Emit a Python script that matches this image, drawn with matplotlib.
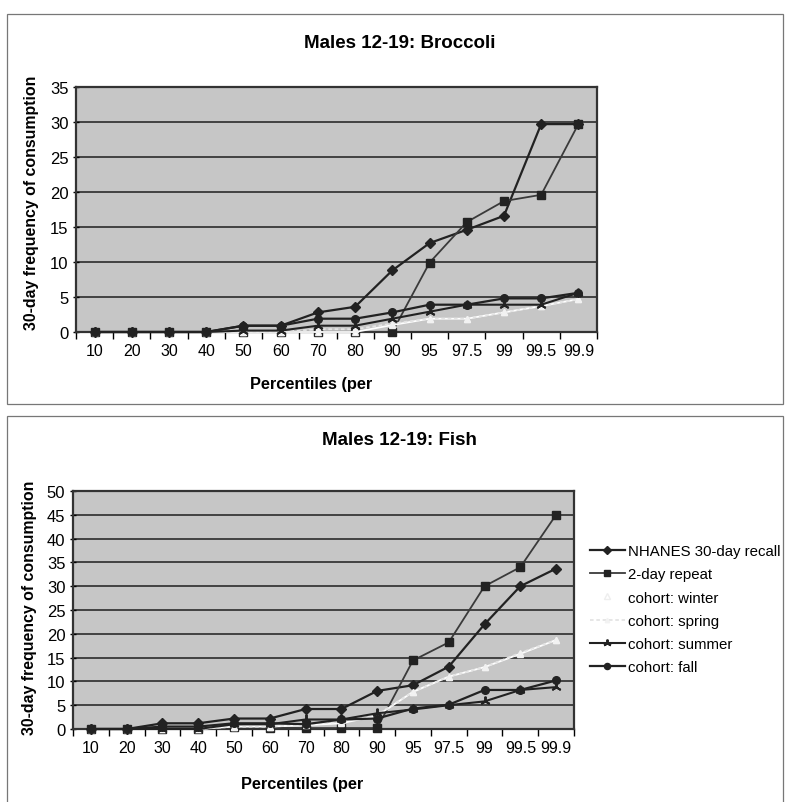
import matplotlib
matplotlib.use('Agg')
import matplotlib.pyplot as plt
from matplotlib.patches import Rectangle

# percentiles on the x axis (categorical)
pct = ['10', '20', '30', '40', '50', '60', '70', '80', '90', '95', '97.5', '99', '99.5', '99.9']

series_names = ['NHANES 30-day recall', '2-day repeat', 'cohort: winter',
                'cohort: spring', 'cohort: summer', 'cohort: fall']

# Males 12-19: Broccoli
b_nhanes = [0, 0, 0, 0, 0.9, 0.9, 2.8, 3.6, 8.8, 12.7, 14.6, 16.6, 29.7, 29.7]
b_repeat = [0, 0, 0, 0, 0, 0, 0, 0, 0, 9.9, 15.7, 18.7, 19.6, 29.7]
b_winter = [0, 0, 0, 0, 0, 0, 0, 0, 1.0, 1.9, 1.9, 2.8, 3.7, 4.7]
b_spring = [0, 0, 0, 0, 0, 0, 0.4, 0.4, 1.2, 1.9, 1.9, 2.8, 3.7, 4.7]
b_summer = [0, 0, 0, 0, 0.2, 0.2, 0.9, 0.9, 1.9, 2.9, 3.9, 3.9, 3.9, 5.6]
b_fall = [0, 0, 0, 0, 0.9, 0.9, 1.9, 1.9, 2.8, 3.9, 3.9, 4.8, 4.8, 5.6]

# Males 12-19: Fish
f_nhanes = [0, 0, 1.2, 1.2, 2.2, 2.2, 4.2, 4.2, 8.0, 9.2, 13.1, 22.0, 30.0, 33.7]
f_repeat = [0, 0, 0, 0, 0.5, 0.3, 0.2, 0.2, 0.2, 14.4, 18.2, 30.0, 34.0, 45.0]
f_winter = [0, 0, 0, 0, 0.5, 0.5, 0.8, 1.2, 2.8, 7.8, 11.0, 13.0, 15.8, 18.7]
f_spring = [0, 0, 0, 0, 0.5, 0.5, 1.0, 1.5, 3.0, 7.8, 11.0, 13.0, 16.0, 18.7]
f_summer = [0, 0, 0, 0, 1.0, 1.0, 2.0, 2.0, 3.3, 4.1, 5.0, 5.8, 8.2, 8.8]
f_fall = [0, 0, 0.5, 0.5, 1.2, 1.2, 1.0, 2.0, 2.2, 4.3, 5.1, 8.2, 8.2, 10.2]

plt.rcParams['font.family'] = ['Liberation Sans', 'DejaVu Sans']

W, H = 787, 803
dark = '#222222'
narrow = ['Liberation Sans Narrow', 'Liberation Sans']

styles = [
    dict(color=dark, lw=1.6, marker='D', ms=5, mfc=dark, mec=dark),
    dict(color='#3a3a3a', lw=1.3, marker='s', ms=5.5, mfc=dark, mec=dark),
    dict(color='white', lw=1.3, marker='^', ms=5, mfc='white', mec='#eeeeee'),
    dict(color='#e4e4e4', lw=1.3, ls=(0, (2, 1.5)), marker='^', ms=4, mfc='#f2f2f2', mec='#f2f2f2'),
    dict(color=dark, lw=1.5, marker=(3, 2, 0), ms=7, mfc=dark, mec=dark, mew=1.4),
    dict(color=dark, lw=1.6, marker='o', ms=5.5, mfc=dark, mec=dark),
]


def px_rect(left, top, right, bottom):
    return [left / W, 1 - bottom / H, (right - left) / W, (bottom - top) / H]


def draw_panel(ax, data, ymax):
    x = list(range(len(pct)))
    lines = []
    for vals, name, st in zip(data, series_names, styles):
        ln, = ax.plot(x, vals, label=name, clip_on=False, zorder=3, **st)
        lines.append(ln)
    ax.set_facecolor('#c6c6c6')
    ax.set_xlim(-0.5, len(pct) - 0.5)
    ax.set_ylim(0, ymax)
    ax.set_yticks(range(0, ymax + 1, 5))
    ax.set_xticks(x)
    ax.set_xticklabels(pct)
    ax.set_xticks([i + 0.5 for i in range(-1, len(pct))], minor=True)
    ax.tick_params(axis='x', which='major', length=0, labelsize=11.5, pad=8)
    ax.tick_params(axis='x', which='minor', length=5, width=1, direction='out')
    ax.tick_params(axis='y', length=5, width=1, direction='inout', labelsize=12, pad=3)
    ax.yaxis.grid(True, color='#1e1e1e', lw=1.1)
    ax.set_axisbelow(True)
    for sp in ax.spines.values():
        sp.set_color('#333333')
        sp.set_linewidth(1.6)
    return lines


fig = plt.figure(figsize=(W / 100, H / 100), dpi=100)

# chart area borders
fig.patches.append(Rectangle((7 / W, 1 - 405 / H), 0.995 - 7 / W, (405 - 15) / H,
                             transform=fig.transFigure, fill=False, ec='#777777', lw=0.9))
fig.patches.append(Rectangle((7 / W, -0.01), 0.995 - 7 / W, 1 - 417 / H + 0.01,
                             transform=fig.transFigure, fill=False, ec='#777777', lw=0.9))

ax1 = fig.add_axes(px_rect(76, 88, 597, 333))
draw_panel(ax1, [b_nhanes, b_repeat, b_winter, b_spring, b_summer, b_fall], 35)
fig.text(0.508, 1 - 43 / H, 'Males 12-19: Broccoli', ha='center', va='center',
         fontsize=13.5, fontweight='bold', family=narrow)
fig.text(311 / W, 1 - 385 / H, 'Percentiles (per', ha='center', va='center',
         fontsize=11.8, fontweight='bold', family=narrow)
fig.text(32 / W, 1 - 203 / H, '30-day frequency of consumption', ha='center', va='center',
         rotation=90, fontsize=11.4, fontweight='bold')

ax2 = fig.add_axes(px_rect(73, 492, 574, 730))
lines = draw_panel(ax2, [f_nhanes, f_repeat, f_winter, f_spring, f_summer, f_fall], 50)
fig.text(0.508, 1 - 441 / H, 'Males 12-19: Fish', ha='center', va='center',
         fontsize=13.5, fontweight='bold', family=narrow)
fig.text(302 / W, 1 - 785 / H, 'Percentiles (per', ha='center', va='center',
         fontsize=11.8, fontweight='bold', family=narrow)
fig.text(30 / W, 1 - 608 / H, '30-day frequency of consumption', ha='center', va='center',
         rotation=90, fontsize=11.4, fontweight='bold')

fig.legend(handles=lines, loc='upper left', bbox_to_anchor=(590 / W, 1 - 545 / H),
           frameon=False, fontsize=10.8, labelspacing=0.62, handlelength=2.3,
           handletextpad=0.2, borderpad=0, borderaxespad=0, markerscale=0.8)

fig.savefig('out.png', dpi=100, facecolor='white')
